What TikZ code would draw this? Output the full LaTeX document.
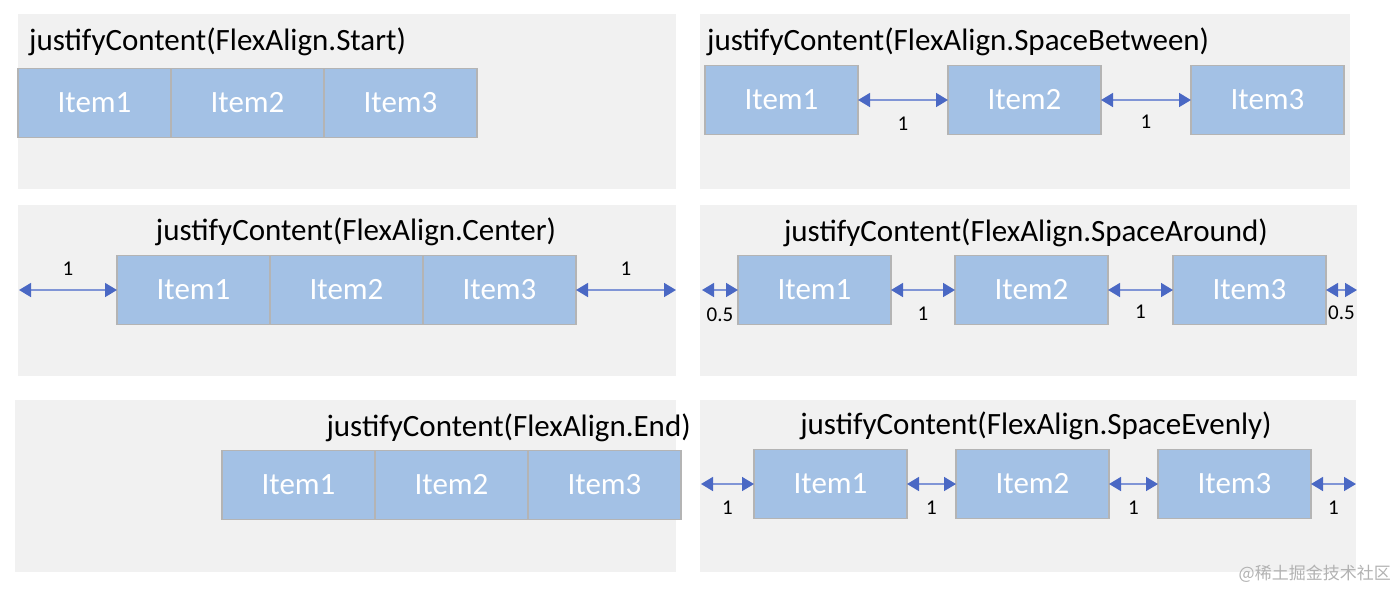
\documentclass[tikz,border=0pt]{standalone}
\usepackage{fontspec}
\setsansfont{Carlito}
\newfontfamily\cjkfont{Noto Sans CJK SC}
\usetikzlibrary{positioning,arrows.meta}
\definecolor{panelgray}{HTML}{F1F1F1}
\definecolor{itemblue}{HTML}{A3C1E5}
\definecolor{itemedge}{HTML}{B4B4B4}
\definecolor{gapblue}{HTML}{4A68C4}

\begin{document}
\begin{tikzpicture}[x=1pt,y=-1pt,
				panel/.style={fill=panelgray},
				item/.style={minimum width=153pt,minimum height=69pt,inner sep=0pt,outer sep=0pt,draw=itemedge,line width=1.4pt,
					fill=itemblue,text=white,font=\sffamily\fontsize{31}{31}\selectfont,node distance=0pt},
				title/.style={inner sep=0pt,font=\sffamily\fontsize{31}{31}\selectfont},
				gap/.style={draw=gapblue!70,line width=1.6pt,
					{Triangle[length=12pt,width=14pt,color=gapblue]}-{Triangle[length=12pt,width=14pt,color=gapblue]}},
				num/.style={inner sep=0pt,font=\sffamily\fontsize{21}{21}\selectfont}]
				\useasboundingbox (0,0) rectangle (1396,590);
				
				% panels
				\fill[panel] (18,14)  rectangle (676,189);
				\fill[panel] (700,14) rectangle (1350,189);
				\fill[panel] (18,205) rectangle (676,376);
				\fill[panel] (700,205) rectangle (1357,376);
				\fill[panel] (15,400) rectangle (676,572);
				\fill[panel] (700,400) rectangle (1356,572);
				
				% Start
				\node[title,anchor=west] (ST) at (29,42)  {justifyContent(FlexAlign.Start)};
				\node[item,anchor=west]  (S1) at (18,103) {Item1};
				\node[item,right=of S1]  (S2)             {Item2};
				\node[item,right=of S2]  (S3)             {Item3};
				
				% SpaceBetween
				\node[title,anchor=west]    (BT) at (707,42)  {justifyContent(FlexAlign.SpaceBetween)};
				\node[item,anchor=west]     (B1) at (705,100) {Item1};
				\node[item,right=90pt of B1] (B2)             {Item2};
				\node[item,right=90pt of B2] (B3)             {Item3};
				\draw[gap] (B1) -- node[num,below=16pt] {1} (B2);
				\draw[gap] (B2) -- node[num,below=14pt] {1} (B3);
				
				% Center
				\node[title]            (CT) at (356,232) {justifyContent(FlexAlign.Center)};
				\node[item,anchor=west] (C1) at (117,290) {Item1};
				\node[item,right=of C1] (C2)              {Item2};
				\node[item,right=of C2] (C3)              {Item3};
				\coordinate (CL) at (19,290);
				\coordinate (CR) at (676,290);
				\draw[gap] (CL) -- node[num,above=14pt] {1} (C1);
				\draw[gap] (C3) -- node[num,above=14pt] {1} (CR);
				
				% SpaceAround
				\node[title]                 (AT) at (1026,233) {justifyContent(FlexAlign.SpaceAround)};
				\node[item,anchor=west]      (A1) at (738,290)  {Item1};
				\node[item,right=64pt of A1] (A2)               {Item2};
				\node[item,right=65pt of A2] (A3)               {Item3};
				\coordinate (AL) at (702,290);
				\coordinate (AR) at (1357,290);
				\draw[gap] (AL) -- node[num,below=17pt] {0.5} (A1);
				\draw[gap] (A1) -- node[num,below=16pt] {1} (A2);
				\draw[gap] (A2) -- node[num,below=14pt] {1} (A3);
				\draw[gap] (A3) -- node[num,below=15pt] {0.5} (AR);
				
				% End
				\node[title,anchor=east] (ET) at (691,428) {justifyContent(FlexAlign.End)};
				\node[item,anchor=west]  (E1) at (222,485) {Item1};
				\node[item,right=of E1]  (E2)              {Item2};
				\node[item,right=of E2]  (E3)              {Item3};
				
				% SpaceEvenly
				\node[title]                 (VT) at (1036,426) {justifyContent(FlexAlign.SpaceEvenly)};
				\node[item,anchor=west]      (V1) at (754,484)  {Item1};
				\node[item,right=49pt of V1] (V2)               {Item2};
				\node[item,right=49pt of V2] (V3)               {Item3};
				\coordinate (VL) at (701,484);
				\coordinate (VR) at (1356,484);
				\draw[gap] (VL) -- node[num,below=16pt] {1} (V1);
				\draw[gap] (V1) -- node[num,below=16pt] {1} (V2);
				\draw[gap] (V2) -- node[num,below=16pt] {1} (V3);
				\draw[gap] (V3) -- node[num,below=16pt] {1} (VR);
				
				\node[anchor=east,inner sep=0pt,text=black!30,font=\cjkfont\fontsize{17}{17}\selectfont] (WM) at (1391,574) {@稀土掘金技术社区};
			\end{tikzpicture}
\end{document}
